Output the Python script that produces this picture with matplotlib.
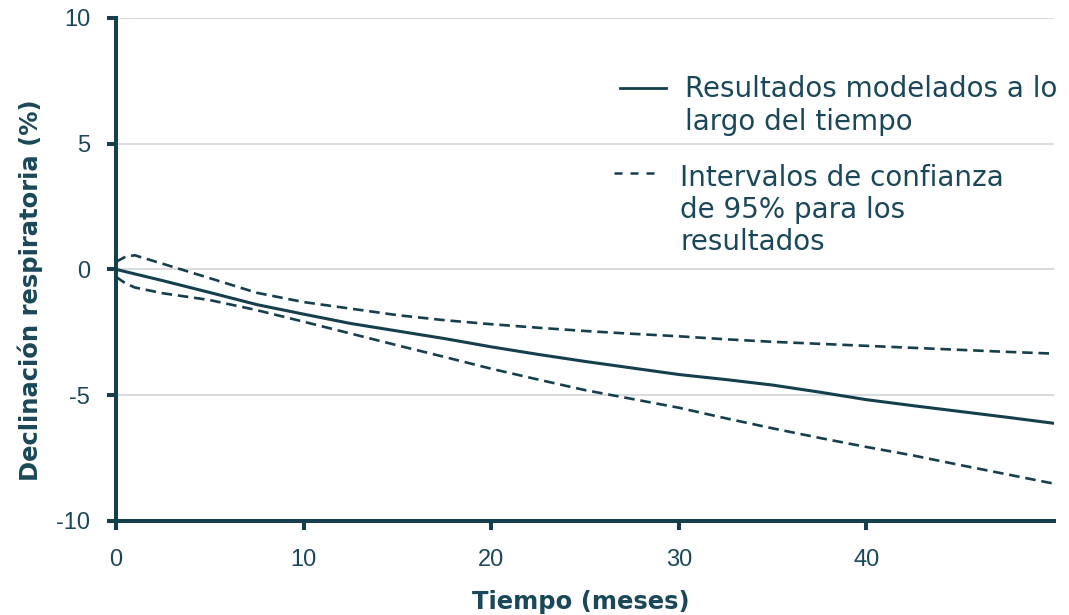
import matplotlib
matplotlib.use("Agg")
import matplotlib.pyplot as plt

# months since baseline
meses = [0, 0.5, 1, 2.5, 5, 7.5, 10, 12.5, 15, 17.5, 20, 22.5, 25,
         27.5, 30, 32.5, 35, 37.5, 40, 42.5, 45, 47.5, 50]

# modelled decline (%)
modelado = [0, -0.09, -0.18, -0.45, -0.92, -1.4, -1.78, -2.15, -2.45, -2.75,
            -3.08, -3.38, -3.66, -3.92, -4.18, -4.38, -4.6, -4.88, -5.18,
            -5.42, -5.65, -5.88, -6.12]

# 95% confidence limits
ic_sup = [0.3, 0.5, 0.56, 0.22, -0.35, -0.93, -1.3, -1.56, -1.82, -2.02,
          -2.18, -2.32, -2.45, -2.56, -2.66, -2.78, -2.88, -2.96, -3.04,
          -3.12, -3.2, -3.28, -3.35]
ic_inf = [-0.3, -0.55, -0.72, -0.95, -1.22, -1.62, -2.08, -2.55, -3.02, -3.48,
          -3.95, -4.38, -4.8, -5.15, -5.5, -5.92, -6.32, -6.7, -7.06, -7.4,
          -7.78, -8.15, -8.52]

xticks = [0, 10, 20, 30, 40]
yticks = [-10, -5, 0, 5, 10]
ytick_labels = ["-10", "-5", "0", "5", "10"]

etiqueta_modelo = "Resultados modelados a lo\nlargo del tiempo"
etiqueta_ic = "Intervalos de confianza\nde 95% para los\nresultados"

oscuro = "#163f4d"
texto = "#1b4858"

fig = plt.figure(figsize=(10.69, 6.15), dpi=100)
ax = fig.add_axes([0.1085, 0.153, 0.8775, 0.818])

ax.plot(meses, modelado, color=oscuro, lw=2.2)
ax.plot(meses, ic_sup, color=oscuro, lw=1.9, dashes=(4, 2.2))
ax.plot(meses, ic_inf, color=oscuro, lw=1.9, dashes=(4, 2.2))

ax.set_xlim(0, 50)
ax.set_ylim(-10, 10)
ax.set_xticks(xticks)
ax.set_yticks(yticks)
ax.set_yticklabels(ytick_labels)

ax.grid(axis="y", color="#d0d0d8", lw=1.1)
ax.set_axisbelow(True)
for s in ["top", "right"]:
    ax.spines[s].set_visible(False)
for s in ["left", "bottom"]:
    ax.spines[s].set_color(oscuro)
    ax.spines[s].set_linewidth(2.9)

ax.tick_params(axis="y", length=6.5, width=2.9, color=oscuro, labelcolor=texto,
               labelsize=17, pad=12)
ax.tick_params(axis="x", length=6.5, width=2.9, color=oscuro, labelcolor=texto,
               labelsize=17, pad=14)
for lab in ax.get_xticklabels() + ax.get_yticklabels():
    lab.set_family("Liberation Sans")

ax.set_ylabel("Declinación respiratoria (%)", fontsize=17.5, fontweight="bold",
              color=texto)
ax.yaxis.set_label_coords(-0.078, 0.459)
ax.set_xlabel("Tiempo (meses)", fontsize=17.5, fontweight="bold", color=texto)
ax.xaxis.set_label_coords(0.495, -0.138)

# legend, drawn by hand so the keys sit on the first text line
# (va="baseline" on multi-line text anchors the last line)
ax.plot([0.537, 0.586], [0.8615, 0.8615], transform=ax.transAxes,
        color=oscuro, lw=2.0, clip_on=False)
ax.text(0.6066, 0.7773, etiqueta_modelo, transform=ax.transAxes, fontsize=20,
        color=texto, va="baseline", ha="left", linespacing=1.2)
ax.plot([0.531, 0.582], [0.6913, 0.6913], transform=ax.transAxes,
        color=oscuro, lw=1.8, dashes=(3.2, 3.2), clip_on=False)
ax.text(0.6013, 0.5376, etiqueta_ic, transform=ax.transAxes, fontsize=20,
        color=texto, va="baseline", ha="left", linespacing=1.2)

fig.savefig("out.png", dpi=100)
